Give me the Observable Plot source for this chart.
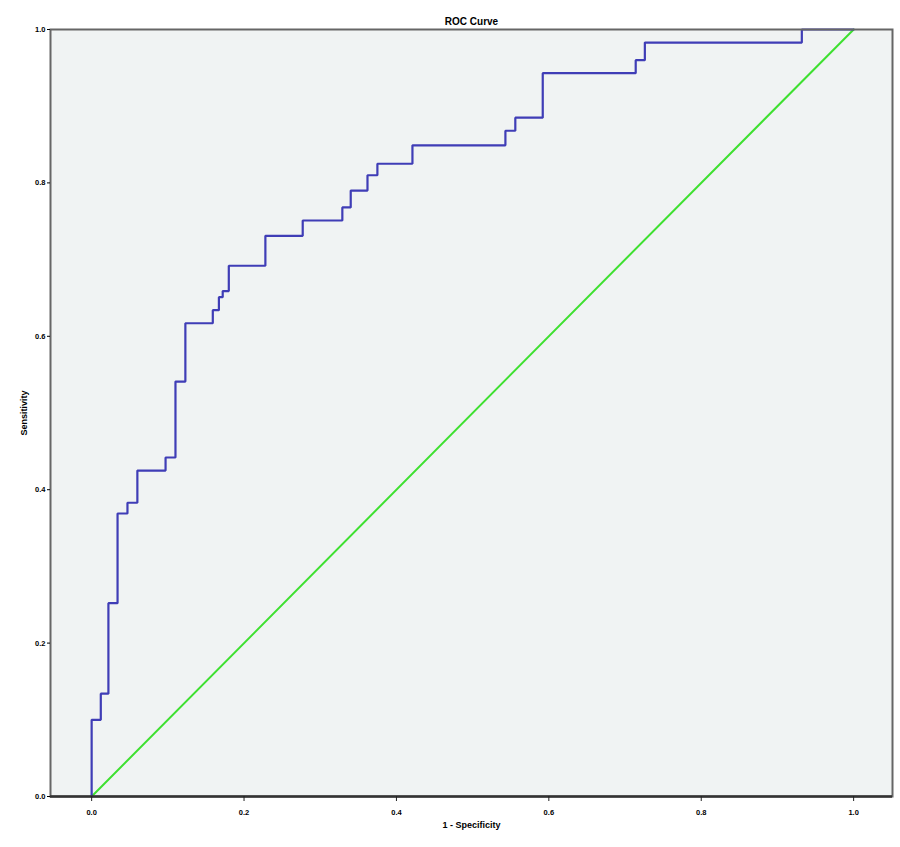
<!DOCTYPE html>
<html>
<head>
<meta charset="utf-8">
<script src="https://cdn.jsdelivr.net/npm/d3@7"></script>
<script src="https://cdn.jsdelivr.net/npm/@observablehq/plot@0.6"></script>
<style>
  html, body { margin: 0; padding: 0; background: #ffffff; }
  #chart svg { display: block; }
</style>
</head>
<body>
<div id="chart"></div>
<script>
// Chart text
const chartTitle = "ROC Curve";
const xLabel = "1 - Specificity";
const yLabel = "Sensitivity";

// Tick values
const xTicks = [0.0, 0.2, 0.4, 0.6, 0.8, 1.0];
const yTicks = [0.0, 0.2, 0.4, 0.6, 0.8, 1.0];

// ROC curve points (1 - specificity, sensitivity)
const fpr = [0.000, 0.000, 0.012, 0.012, 0.022, 0.022, 0.034, 0.034, 0.047, 0.047,
             0.060, 0.060, 0.097, 0.097, 0.110, 0.110, 0.123, 0.123, 0.159, 0.159,
             0.167, 0.167, 0.172, 0.172, 0.180, 0.180, 0.228, 0.228, 0.277, 0.277,
             0.329, 0.329, 0.340, 0.340, 0.362, 0.362, 0.375, 0.375, 0.421, 0.421,
             0.543, 0.543, 0.556, 0.556, 0.592, 0.592, 0.714, 0.714, 0.726, 0.726,
             0.932, 0.932, 1.000];
const tpr = [0.000, 0.100, 0.100, 0.134, 0.134, 0.252, 0.252, 0.369, 0.369, 0.383,
             0.383, 0.425, 0.425, 0.442, 0.442, 0.541, 0.541, 0.617, 0.617, 0.634,
             0.634, 0.651, 0.651, 0.659, 0.659, 0.692, 0.692, 0.731, 0.731, 0.751,
             0.751, 0.768, 0.768, 0.790, 0.790, 0.810, 0.810, 0.825, 0.825, 0.849,
             0.849, 0.868, 0.868, 0.885, 0.885, 0.943, 0.943, 0.960, 0.960, 0.983,
             0.983, 1.000, 1.000];

// Reference (chance) line
const refX = [0, 1];
const refY = [0, 1];

const rocData = fpr.map((x, i) => ({x, y: tpr[i]}));
const refData = refX.map((x, i) => ({x, y: refY[i]}));

const font = "Liberation Sans, Arial, sans-serif";

const chart = Plot.plot({
  width: 900,
  height: 847,
  marginLeft: 50,
  marginRight: 8,
  marginTop: 29,
  marginBottom: 51,
  style: {fontFamily: font, background: "#ffffff", color: "#000"},
  x: {domain: [-0.054, 1.051]},
  y: {domain: [0, 1]},
  marks: [
    Plot.frame({fill: "#f0f3f3", stroke: null}),
    Plot.line(refData, {x: "x", y: "y", stroke: "#3ee030", strokeWidth: 2}),
    Plot.line(rocData, {x: "x", y: "y", stroke: "#3f3db6", strokeWidth: 2.2, strokeLinejoin: "miter"}),
    Plot.frame({stroke: "#666666", strokeWidth: 2}),
    Plot.ruleY([0], {stroke: "#333333", strokeWidth: 2.5}),
    Plot.axisX({
      ticks: xTicks, tickFormat: d3.format(".1f"), tickSize: 5, stroke: "#222",
      fontSize: 7.5, fontWeight: "bold", tickPadding: 8,
      label: xLabel, labelAnchor: "center", labelArrow: "none", labelOffset: 31
    }),
    Plot.axisY({
      ticks: yTicks, tickFormat: d3.format(".1f"), tickSize: 3,
      fontSize: 7.5, fontWeight: "bold", tickPadding: 2,
      label: yLabel, labelAnchor: "center", labelArrow: "none", labelOffset: 30
    }),
    Plot.text([chartTitle], {
      frameAnchor: "top", dy: -12, text: d => d, fontSize: 10,
      fontWeight: "bold", fill: "#000"
    })
  ]
});

// style axis labels a bit bolder
chart.querySelectorAll("[aria-label='x-axis label'], [aria-label='y-axis label']").forEach(g => {
  g.setAttribute("font-weight", "bold");
  g.setAttribute("font-size", "9");
});
document.getElementById("chart").append(chart);
</script>
</body>
</html>
